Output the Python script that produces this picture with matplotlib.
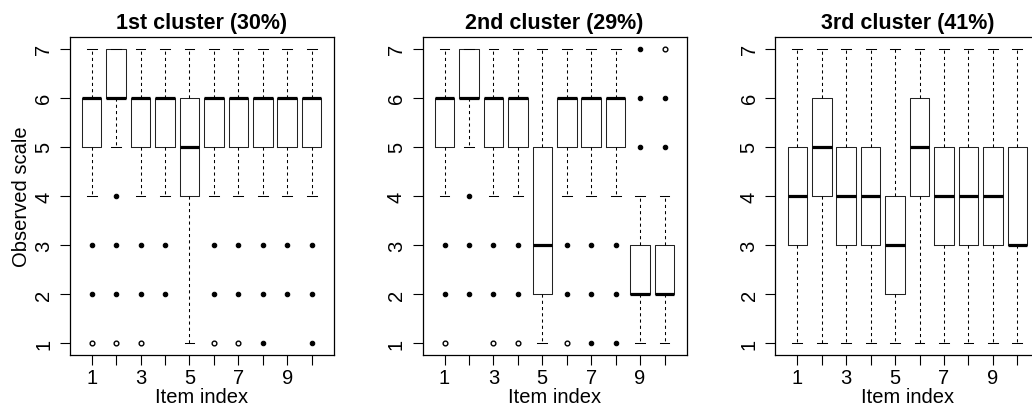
import matplotlib
matplotlib.use("Agg")
import matplotlib.pyplot as plt
import numpy as np

plt.rcParams['font.family'] = ['Liberation Sans', 'DejaVu Sans']

# Data: five-number summaries per item (1..10) for each cluster
titles = ["1st cluster (30%)", "2nd cluster (29%)", "3rd cluster (41%)"]
items = list(range(1, 11))

c1_lo = [4, 5, 4, 4, 1, 4, 4, 4, 4, 4]
c1_q1 = [5, 6, 5, 5, 4, 5, 5, 5, 5, 5]
c1_med = [6, 6, 6, 6, 5, 6, 6, 6, 6, 6]
c1_q3 = [6, 7, 6, 6, 6, 6, 6, 6, 6, 6]
c1_hi = [7, 7, 7, 7, 7, 7, 7, 7, 7, 7]
c1_out_dense = [[3, 2], [4, 3, 2], [3, 2], [3, 2], [], [3, 2], [3, 2], [3, 2, 1], [3, 2], [3, 2, 1]]
c1_out_sparse = [[1], [1], [1], [], [], [1], [1], [], [], []]

c2_lo = [4, 5, 4, 4, 1, 4, 4, 4, 1, 1]
c2_q1 = [5, 6, 5, 5, 2, 5, 5, 5, 2, 2]
c2_med = [6, 6, 6, 6, 3, 6, 6, 6, 2, 2]
c2_q3 = [6, 7, 6, 6, 5, 6, 6, 6, 3, 3]
c2_hi = [7, 7, 7, 7, 7, 7, 7, 7, 4, 4]
c2_out_dense = [[3, 2], [4, 3, 2], [3, 2], [3, 2], [], [3, 2], [3, 2, 1], [3, 2, 1], [5, 6, 7], [5, 6]]
c2_out_sparse = [[1], [], [1], [1], [], [1], [], [], [], [7]]

c3_lo = [1, 1, 1, 1, 1, 1, 1, 1, 1, 1]
c3_q1 = [3, 4, 3, 3, 2, 4, 3, 3, 3, 3]
c3_med = [4, 5, 4, 4, 3, 5, 4, 4, 4, 3]
c3_q3 = [5, 6, 5, 5, 4, 6, 5, 5, 5, 5]
c3_hi = [7, 7, 7, 7, 7, 7, 7, 7, 7, 7]
c3_out_dense = [[] for _ in items]
c3_out_sparse = [[] for _ in items]

clusters = [
    (c1_lo, c1_q1, c1_med, c1_q3, c1_hi, c1_out_dense, c1_out_sparse),
    (c2_lo, c2_q1, c2_med, c2_q3, c2_hi, c2_out_dense, c2_out_sparse),
    (c3_lo, c3_q1, c3_med, c3_q3, c3_hi, c3_out_dense, c3_out_sparse),
]

W, H = 1032, 410
fig = plt.figure(figsize=(W / 100, H / 100), dpi=100, facecolor='white')

for k, (lo, q1, med, q3, hi, od, osp) in enumerate(clusters):
    left = (69.7 + 352.8 * k) / W
    ax = fig.add_axes([left, 54 / H, 264 / W, 318 / H])
    stats = []
    for i in range(len(items)):
        stats.append(dict(whislo=lo[i], q1=q1[i], med=med[i], q3=q3[i], whishi=hi[i], fliers=[]))
    ax.bxp(stats, positions=items, widths=0.8, showfliers=False, patch_artist=False,
           boxprops=dict(color='#222222', linewidth=0.75),
           medianprops=dict(color='black', linewidth=2.3, solid_capstyle='butt'),
           whiskerprops=dict(color='black', linewidth=0.75, linestyle=(0, (3.0, 3.0))),
           capprops=dict(color='black', linewidth=0.75), capwidths=0.4)
    # outliers
    for i, x in enumerate(items):
        for v in od[i]:
            ax.plot(x, v, 'o', ms=3.2, mfc='black', mec='black', mew=0.8)
        for v in osp[i]:
            ax.plot(x, v, 'o', ms=3.4, mfc='white', mec='black', mew=1.0)

    ax.set_xlim(0.1, 10.9)
    ax.set_ylim(0.76, 7.24)
    ax.set_xticks(items)
    ax.set_xticklabels([str(x) if x % 2 == 1 else '' for x in items])
    ax.set_yticks(range(1, 8))
    ax.set_yticklabels([str(v) for v in range(1, 8)], rotation=90, va='center')
    ax.tick_params(axis='both', direction='out', length=7, width=0.8, labelsize=14.5, color='black')
    ax.tick_params(axis='x', pad=2.5)
    ax.tick_params(axis='y', pad=5)
    for sp in ax.spines.values():
        sp.set_linewidth(0.9)
    ax.set_title(titles[k], fontsize=15.5, fontweight='bold', pad=6.5)
    ax.set_xlabel("Item index", fontsize=14.5, labelpad=0)
    if k == 0:
        ax.set_ylabel("Observed scale", fontsize=14.5, labelpad=2)

fig.savefig("out.png", dpi=100, facecolor='white')
